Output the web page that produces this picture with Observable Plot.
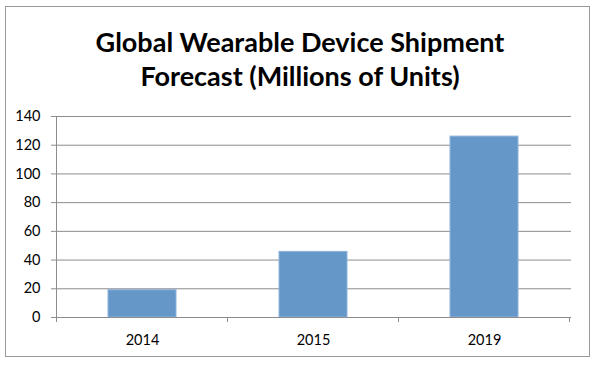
<!DOCTYPE html>
<html>
<head>
<meta charset="utf-8">
<script src="https://cdn.jsdelivr.net/npm/d3@7"></script>
<script src="https://cdn.jsdelivr.net/npm/@observablehq/plot@0.6"></script>
<style>
  html, body { margin: 0; padding: 0; background: #fff; }
  #wrap { position: relative; width: 600px; height: 368px; overflow: hidden; font-family: Lato, "Open Sans", sans-serif; }
  #frame { position: absolute; left: 5px; top: 6px; width: 585px; height: 351px; border: 1px solid #9a9a9a; box-sizing: border-box; }
  #title { position: absolute; left: 0; top: 25px; width: 600px; text-align: center; font-weight: bold; font-size: 27px; line-height: 34px; color: #000; }
  #chart { position: absolute; left: 0; top: 100px; }
</style>
</head>
<body>
<div id="wrap">
  <div id="frame"></div>
  <div id="title">Global Wearable Device Shipment<br>Forecast (Millions of Units)</div>
  <div id="chart"></div>
</div>
<script>
const years = ["2014", "2015", "2019"];
const shipments = [19, 45.7, 126];
const yTicks = [0, 20, 40, 60, 80, 100, 120, 140];

const data = years.map((year, i) => ({year, value: shipments[i]}));

// y axis line and category boundary tick marks below the x axis (Excel style)
function axisLines(index, scales, values, dims) {
  const x = scales.x, y = scales.y;
  const step = x(years[1]) - x(years[0]);
  const bw = x.bandwidth ? x.bandwidth() : step * 0.4;
  const gap = (step - bw) / 2;
  const y0 = y(0);
  const g = d3.create("svg:g").attr("stroke", "#8c8c8c").attr("stroke-width", 1);
  const left = x(years[0]) - gap;
  g.append("line").attr("x1", left).attr("x2", left).attr("y1", y(yTicks[yTicks.length - 1])).attr("y2", y0 + 4);
  const edges = [left];
  years.forEach(yr => edges.push(x(yr) + bw + gap));
  for (const e of edges) {
    g.append("line").attr("x1", e).attr("x2", e).attr("y1", y0).attr("y2", y0 + 5);
  }
  return g.node();
}

const chart = Plot.plot({
  width: 600,
  height: 260,
  marginTop: 16,
  marginBottom: 43,
  marginLeft: 56,
  marginRight: 29,
  style: {fontFamily: "Lato, 'Open Sans', sans-serif", fontSize: "14.5px", color: "#000", background: "transparent"},
  x: {domain: years, paddingInner: 0.6, paddingOuter: 0.3, label: null},
  y: {domain: [0, 140], label: null},
  marks: [
    Plot.ruleY(yTicks.filter(t => t > 0), {stroke: "#8c8c8c", strokeWidth: 1}),
    Plot.barY(data, {x: "year", y: "value", fill: "#6598c9", stroke: "#8db3db", strokeWidth: 1}),
    Plot.ruleY([0], {stroke: "#8c8c8c", strokeWidth: 1}),
    axisLines,
    Plot.axisY({ticks: yTicks, tickSize: 5, tickPadding: 11, stroke: "#8c8c8c", label: null, fontSize: 14.5}),
    Plot.axisX({tickSize: 0, tickPadding: 17, label: null, fontSize: 14.5})
  ]
});
document.getElementById("chart").appendChild(chart);
</script>
</body>
</html>
